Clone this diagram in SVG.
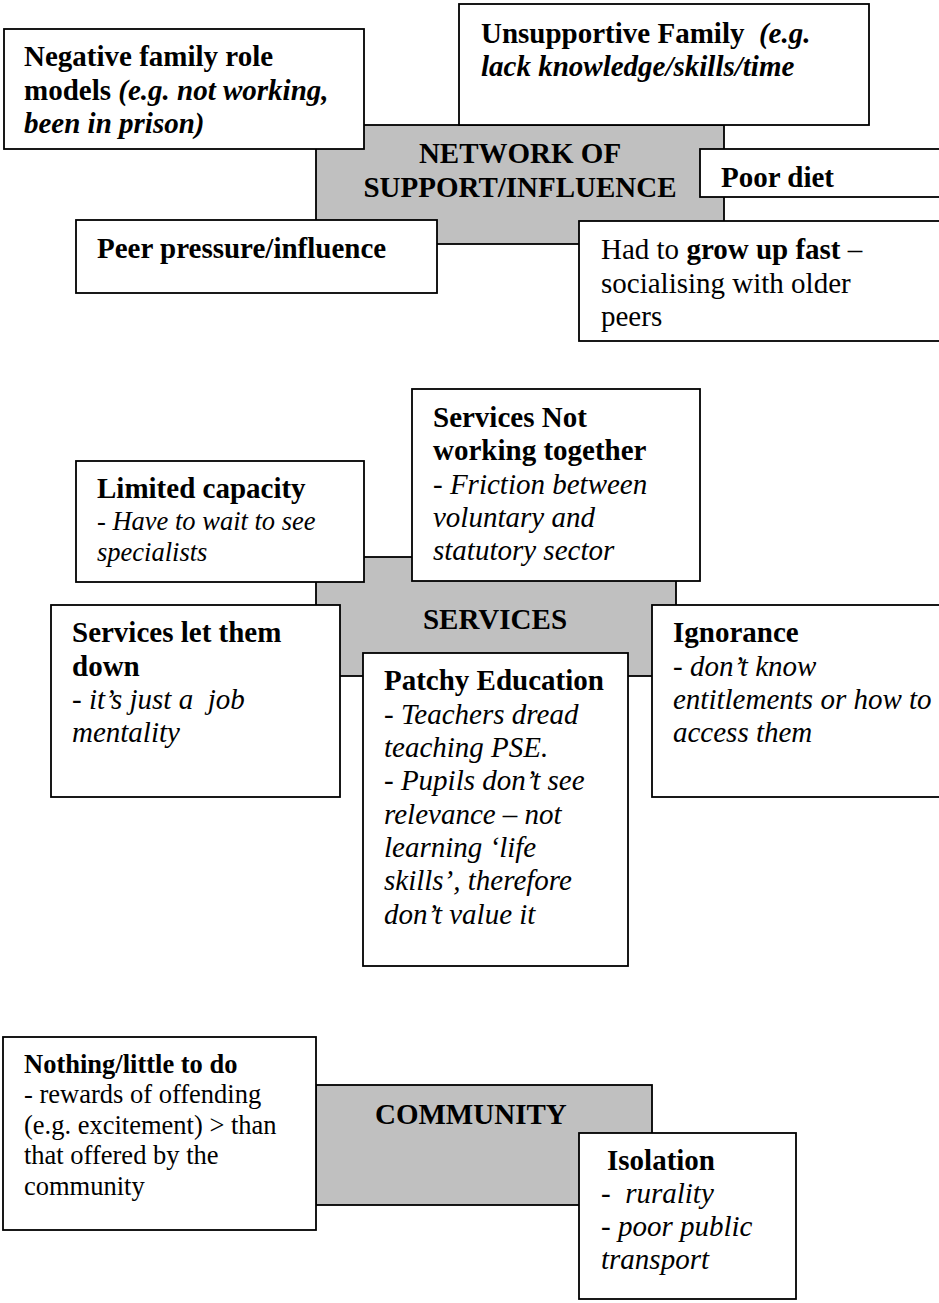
<svg xmlns="http://www.w3.org/2000/svg" width="939" height="1303" viewBox="0 0 939 1303">
<style>
text{font-family:"Liberation Serif","Times New Roman",serif;font-size:29px;fill:#000}
.hub{fill:#c0c0c0;stroke:#000;stroke-width:1.8}
.box{fill:#fff;stroke:#000;stroke-width:1.8}
.b{font-weight:bold}
.i{font-style:italic}
.bi{font-weight:bold;font-style:italic}
.s{font-size:26.5px}
.pre{white-space:pre}
</style>
<rect width="939" height="1303" fill="#fff"/>
<g id="connectors"/>

<!-- Section 1 -->
<g id="hub-network">
<rect class="hub" x="316" y="125" width="408" height="119"/>
<text class="b" text-anchor="middle" x="520" y="163">NETWORK OF</text>
<text class="b" text-anchor="middle" x="520" y="197">SUPPORT/INFLUENCE</text>
</g>
<g id="node-negative-family">
<rect class="box" x="4" y="29" width="360" height="120"/>
<text class="b" x="24" y="66">Negative family role</text>
<text class="b" x="24" y="99.5">models <tspan class="bi">(e.g. not working,</tspan></text>
<text class="bi" x="24" y="132.5">been in prison)</text>
</g>
<g id="node-unsupportive-family">
<rect class="box" x="459" y="4" width="410" height="121"/>
<text class="b pre" x="481" y="43">Unsupportive Family  <tspan class="bi">(e.g.</tspan></text>
<text class="bi" x="481" y="76">lack knowledge/skills/time</text>
</g>
<g id="node-poor-diet">
<rect class="box" x="700" y="149" width="260" height="48"/>
<text class="b" x="721" y="187">Poor diet</text>
</g>
<g id="node-peer-pressure">
<rect class="box" x="76" y="220" width="361" height="73"/>
<text class="b" x="97" y="258">Peer pressure/influence</text>
</g>
<g id="node-grow-up-fast">
<rect class="box" x="579" y="221" width="380" height="120"/>
<text x="601" y="259">Had to <tspan class="b">grow up fast</tspan> –</text>
<text x="601" y="292.5">socialising with older</text>
<text x="601" y="325.5">peers</text>
</g>

<!-- Section 2 -->
<g id="hub-services">
<rect class="hub" x="316" y="557" width="360" height="119"/>
<text class="b" text-anchor="middle" x="495" y="629">SERVICES</text>
</g>
<g id="node-limited-capacity">
<rect class="box" x="76" y="461" width="288" height="121"/>
<text class="b" x="97" y="498">Limited capacity</text>
<text class="i s" x="97" y="530">- Have to wait to see</text>
<text class="i s" x="97" y="561">specialists</text>
</g>
<g id="node-not-working-together">
<rect class="box" x="412" y="389" width="288" height="192"/>
<text class="b" x="433" y="427">Services Not</text>
<text class="b" x="433" y="460">working together</text>
<text class="i" x="433" y="493.5">- Friction between</text>
<text class="i" x="433" y="527">voluntary and</text>
<text class="i" x="433" y="560">statutory sector</text>
</g>
<g id="node-let-them-down">
<rect class="box" x="51" y="605" width="289" height="192"/>
<text class="b" x="72" y="642">Services let them</text>
<text class="b" x="72" y="675.5">down</text>
<text class="i pre" x="72" y="709">- it’s just a  job</text>
<text class="i" x="72" y="742">mentality</text>
</g>
<g id="node-patchy-education">
<rect class="box" x="363" y="653" width="265" height="313"/>
<text class="b" x="384" y="690">Patchy Education</text>
<text class="i" x="384" y="723.5">- Teachers dread</text>
<text class="i" x="384" y="757">teaching PSE.</text>
<text class="i" x="384" y="790">- Pupils don’t see</text>
<text class="i" x="384" y="823.5">relevance – not</text>
<text class="i" x="384" y="857">learning ‘life</text>
<text class="i" x="384" y="890">skills’, therefore</text>
<text class="i" x="384" y="923.5">don’t value it</text>
</g>
<g id="node-ignorance">
<rect class="box" x="652" y="605" width="310" height="192"/>
<text class="b" x="673" y="642">Ignorance</text>
<text class="i" x="673" y="675.5">- don’t know</text>
<text class="i" x="673" y="709">entitlements or how to</text>
<text class="i" x="673" y="742">access them</text>
</g>

<!-- Section 3 -->
<g id="hub-community">
<rect class="hub" x="316" y="1085" width="336" height="120"/>
<text class="b" x="375" y="1124">COMMUNITY</text>
</g>
<g id="node-nothing-to-do">
<rect class="box" x="3" y="1037" width="313" height="193"/>
<text class="b s" x="24" y="1073">Nothing/little to do</text>
<text class="s" x="24" y="1103">- rewards of offending</text>
<text class="s" x="24" y="1133.5">(e.g. excitement) &gt; than</text>
<text class="s" x="24" y="1164">that offered by the</text>
<text class="s" x="24" y="1195">community</text>
</g>
<g id="node-isolation">
<rect class="box" x="579" y="1133" width="217" height="166"/>
<text class="b" x="607" y="1170">Isolation</text>
<text class="i pre" x="601" y="1203">-  rurality</text>
<text class="i" x="601" y="1236">- poor public</text>
<text class="i" x="601" y="1269">transport</text>
</g>
</svg>
